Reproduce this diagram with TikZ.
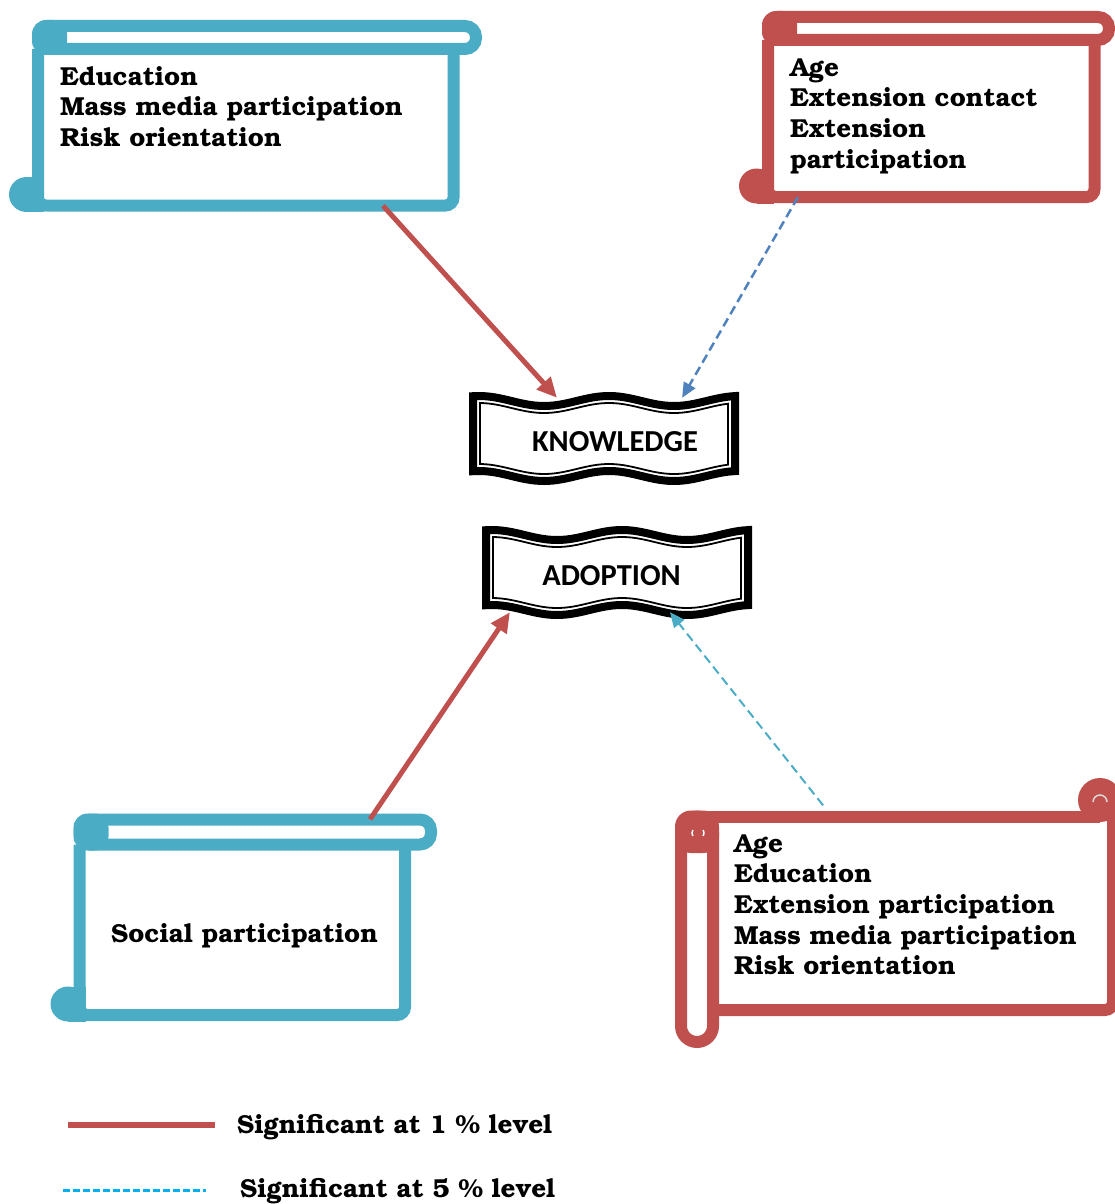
\documentclass[tikz,border=0pt]{standalone}
\usepackage{fontspec}
\usepackage[T1,TU]{fontenc}
\usepackage{
tikz,
xcolor,
}
\usetikzlibrary{fit}
\usetikzlibrary{calc}
\usetikzlibrary{arrows.meta}
\newfontfamily\bannerfont{Carlito}
\newcommand{\scrollfont}{\fontencoding{T1}\fontfamily{pbk}\fontseries{b}\fontsize{26}{30.6}\selectfont}
\definecolor{scrollred}{HTML}{C0504D}
\definecolor{scrollblue}{HTML}{4BACC6}
\definecolor{arrowblue}{HTML}{4F81BD}
\definecolor{legendcyan}{HTML}{00B0F0}
\tikzstyle{region}=[inner sep=0pt]
\tikzstyle{scrolltext}=[anchor=north west,inner sep=0pt,align=left,font=\scrollfont]
\tikzstyle{bannertext}=[anchor=base,inner sep=0pt,font=\bannerfont\bfseries\fontsize{30.5}{34}\selectfont]
\tikzstyle{sigone}=[draw=scrollred,line width=5pt,-{Triangle[length=20pt,width=18pt]}]
\tikzstyle{sigfive}=[line width=2.5pt,dash pattern=on 9pt off 5pt,-{Triangle[length=15pt,width=13pt]}]
% scroll: colour, left, roll top, roll height, right, bottom, roll end
\newcommand{\hscroll}[7]{%
  \draw[#1,line width=12pt,rounded corners=8pt] (#2,#3+#4) -- (#2,#6) -- (#5,#6) -- (#5,#3+#4);
  \draw[#1,line width=12pt,rounded corners=11pt] (#2,#3) rectangle (#7,#3+#4);
  \fill[#1,rounded corners=14pt] (#2-6,#3-6) rectangle (#2+29,#3+#4+6);
  \fill[#1] (#2-11.5,#6-11) circle (17.5pt);
  \fill[#1] (#2-11.5,#6-28.5) rectangle (#2+6,#6+6.5);
}
% banner: left, right, top, bottom (outer edges)
\newcommand{\wavebanner}[4]{%
  \draw[line width=8pt] plot[domain=#1+4:#2-4,samples=60] (\x,{#3+4+5*sin(2.7692*(\x-#1-42.5))})
    -- plot[domain=#2-4:#1+4,samples=60] (\x,{#4-4+5*sin(2.7692*(\x-#1-42.5))}) -- cycle;
  \draw[line width=1.8pt] plot[domain=#1+11:#2-11,samples=60] (\x,{#3+11+5*sin(2.7692*(\x-#1-42.5))})
    -- plot[domain=#2-11:#1+11,samples=60] (\x,{#4-11+5*sin(2.7692*(\x-#1-42.5))}) -- cycle;
}
\begin{document}
\begin{tikzpicture}[x=1pt,y=-1pt]
  \useasboundingbox (0,0) rectangle (1115,1204);
  % scrolls
  \hscroll{scrollblue}{38}{26}{23}{453.5}{205.5}{476}
  \hscroll{scrollred}{768}{17}{23}{1094.5}{197}{1109}
  \hscroll{scrollblue}{79.5}{819.5}{25}{405}{1015}{431}
  \draw[scrollred,line width=12pt,rounded corners=16pt] (681,816.5) rectangle (713,1042);
  \fill[scrollred,rounded corners=16pt] (675,810.5) rectangle (719,853);
  \draw[white,line width=1.5pt] (692,833) arc[start angle=180,end angle=150,radius=6pt];
  \draw[white,line width=1.5pt] (692,833) arc[start angle=180,end angle=210,radius=6pt];
  \draw[white,line width=1.5pt] (704,833) arc[start angle=0,end angle=30,radius=6pt];
  \draw[white,line width=1.5pt] (704,833) arc[start angle=0,end angle=-30,radius=6pt];
  \fill[scrollred] (1100,800) circle (22pt);
  \draw[black!15,line width=1.5pt] (1107,802) arc[start angle=0,end angle=180,radius=7pt];
  \draw[scrollred,line width=12pt] (697,816.5) -- (1100,816.5);
  \draw[scrollred,line width=12pt,rounded corners=8pt] (1113,805) -- (1113,1010) -- (713,1010);
  % banners
  \wavebanner{469}{739}{397}{480}
  \wavebanner{482}{752}{531}{614}
  % regions
  \node[] (kone) [region,fit={(38,26) (453.5,205.5)}] {};
  \node[] (kfive) [region,fit={(768,17) (1094.5,197)}] {};
  \node[] (aone) [region,fit={(79.5,819.5) (405,1015)}] {};
  \node[] (afive) [region,fit={(681,816.5) (1113,1042)}] {};
  \node[] (know) [region,fit={(469,398) (739,478)}] {};
  \node[] (adopt) [region,fit={(482,532) (752,612)}] {};
  % texts
  \node[] (konetext) [scrolltext] at (60,63.6) {\strut Education\\Mass media participation\\Risk orientation};
  \node[] (kfivetext) [scrolltext] at (790,54.6) {\strut Age\\Extension contact\\Extension\\participation};
  \node[] (aonetext) [scrolltext,anchor=base west] at (111,942) {Social participation};
  \node[] (afivetext) [scrolltext] at (734,830.6) {\strut Age\\Education\\Extension participation\\Mass media participation\\Risk orientation};
  \node[] (knowtext) [bannertext] at (615,451) {KNOWLEDGE};
  \node[] (adopttext) [bannertext] at (611.5,585) {ADOPTION};
  % links
  \draw[sigone] ($(kone.south west)!0.83!(kone.south east)$) -- ($(know.north west)!0.326!(know.north east)$);
  \draw[sigfive,arrowblue] ($(kfive.south west)!0.092!(kfive.south east)$) -- ($(know.north west)!0.789!(know.north east)$);
  \draw[sigone] ($(aone.north west)!0.892!(aone.north east)$) -- ($(adopt.south west)!0.104!(adopt.south east)$);
  \draw[sigfive,scrollblue,line width=2pt] ($(afive.north west)!0.329!(afive.north east)+(0,-11)$) -- ($(adopt.south west)!0.696!(adopt.south east)$);
  % legend
  \coordinate (oneleft) at (68,1125);
  \coordinate (oneright) at (215,1125);
  \coordinate (fiveleft) at (63,1190);
  \coordinate (fiveright) at (206,1190);
  \draw[scrollred,line width=6pt] (oneleft) -- (oneright);
  \draw[legendcyan,line width=3pt,dash pattern=on 7pt off 3pt] (fiveleft) -- (fiveright);
  \node[] (onetext) [scrolltext,anchor=base west] at (237,1133) {Significant at 1 \% level};
  \node[] (fivetext) [scrolltext,anchor=base west] at (240,1197) {Significant at 5 \% level};
\end{tikzpicture}
\end{document}
